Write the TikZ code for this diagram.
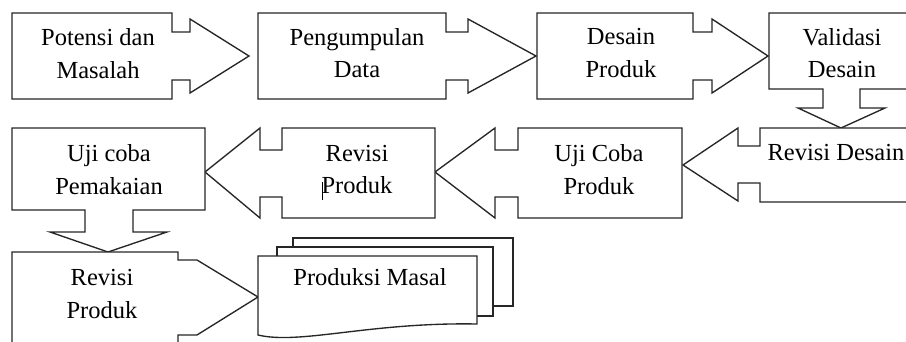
\documentclass[tikz,border=0pt]{standalone}
\usepackage{fontspec}
\setmainfont{Liberation Serif}
\begin{document}
\begin{tikzpicture}[x=1pt,y=-1pt,
  shp/.style={draw=black!85,line width=1.35pt,fill=white,line join=miter},
  lbl/.style={font=\fontsize{24.5}{32.5}\selectfont,align=center,inner sep=0pt,text=black}]
\useasboundingbox (0,0) rectangle (906,341);
\clip (0,0) rectangle (906,341);
% Row 1
\draw[shp] (12,13) -- (172,13) -- (172,32) -- (190,32) -- (190,19) -- (249,56) -- (190,93) -- (190,80) -- (172,80) -- (172,99) -- (12,99) -- cycle;
\draw[shp] (258,13) -- (446,13) -- (446,32) -- (468,32) -- (468,19) -- (536,56) -- (468,93) -- (468,80) -- (446,80) -- (446,99) -- (258,99) -- cycle;
\draw[shp] (537,13) -- (693,13) -- (693,32) -- (712,32) -- (712,19) -- (768,56) -- (712,93) -- (712,80) -- (693,80) -- (693,99) -- (537,99) -- cycle;
\draw[shp] (769,13) -- (920,13) -- (920,89) -- (860,89) -- (860,108) -- (885,108) -- (841,128) -- (798,108) -- (823,108) -- (823,89) -- (769,89) -- cycle;
% Row 2
\draw[shp] (760,128) -- (920,128) -- (920,202) -- (760,202) -- (760,183) -- (738,183) -- (738,201) -- (683,165) -- (738,128) -- (738,146) -- (760,146) -- cycle;
\draw[shp] (518,128) -- (682,128) -- (682,218) -- (518,218) -- (518,197) -- (495,197) -- (495,218) -- (435,172) -- (495,128) -- (495,150) -- (518,150) -- cycle;
\draw[shp] (282,128) -- (435,128) -- (435,218) -- (282,218) -- (282,197) -- (260,197) -- (260,218) -- (205,172) -- (260,128) -- (260,150) -- (282,150) -- cycle;
\draw[shp] (12,128) -- (205,128) -- (205,210) -- (133,210) -- (133,232) -- (167,232) -- (108,252) -- (50,232) -- (85,232) -- (85,210) -- (12,210) -- cycle;
% Row 3
\draw[shp] (12,252) -- (178,252) -- (178,260) -- (197,260) -- (258,297) -- (197,335) -- (178,335) -- (178,343) -- (12,343) -- cycle;
\draw[shp] (293,238) rectangle (513,306);
\draw[shp] (277,247) rectangle (493,316);
\draw[shp] (258,256) -- (477,256) -- (477,324) .. controls (370,322) and (300,345) .. (258,335) -- cycle;
% Labels
\node[lbl] (potensi) at (98,53.5) {Potensi dan\\Masalah};
\node[lbl] (data) at (357,53) {Pengumpulan\\Data};
\node[lbl] (desain) at (621,53) {Desain\\Produk};
\node[lbl] (validasi) at (842,53) {Validasi\\Desain};
\node[lbl,anchor=base] (revdes) at (836,160) {Revisi Desain};
\node[lbl] (ujicoba) at (599,169.5) {Uji Coba\\Produk};
\node[lbl] (revprod) at (357,169.5) {Revisi\\Produk};
\node[lbl] (pemakaian) at (109,169.5) {Uji coba\\Pemakaian};
\node[lbl] (revprod2) at (102,294) {Revisi\\Produk};
\node[lbl,anchor=base] (masal) at (370,285) {Produksi Masal};
\draw[line width=0.8pt] (322,182) -- (322,200);
\end{tikzpicture}
\end{document}
